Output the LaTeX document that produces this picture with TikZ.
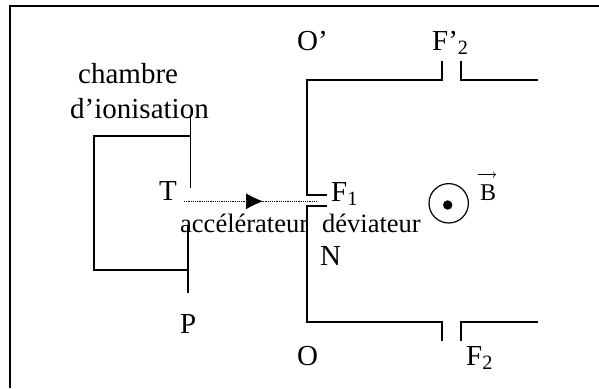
\documentclass[tikz,border=0pt]{standalone}
\usepackage{fontspec}
\setmainfont{Liberation Serif}
\usetikzlibrary{arrows.meta}
\tikzset{
  wall/.style={line width=1.2pt},
  lab/.style={anchor=base west,inner sep=0pt,font=\fontsize{26.5}{30}\selectfont},
  biglab/.style={anchor=base west,inner sep=0pt,font=\fontsize{29}{30}\selectfont},
}
\begin{document}
\begin{tikzpicture}[x=1pt,y=-1pt]
  \useasboundingbox (0,0) rectangle (599,388);
  \draw[wall] (10,388)--(10,6)--(599,6);
  % chambre
  \draw[wall] (190.7,136)--(94,136)--(94,270)--(188,270);
  \draw[wall] (190.7,117)--(190.7,188);
  \draw[wall] (188,225)--(188,293);
  % deviateur
  \draw[wall] (327,195)--(307,195)--(307,80)--(442,80)--(442,61);
  \draw[wall] (461,61)--(461,80)--(538,80);
  \draw[wall] (327,206)--(307,206)--(307,322)--(442,322)--(442,341);
  \draw[wall] (461,341)--(461,322)--(538,322);
  % faisceau
  \coordinate (start) at (184,201.3);
  \coordinate (base) at (246,201.3);
  \coordinate (tip) at (263,201.3);
  \coordinate (end) at (318,201.3);
  \draw[line width=1.1pt,dash pattern=on 1.1pt off 1.1pt] (start)--(end);
  \draw[-{Latex[length=17pt,width=16pt]},line width=0pt] (base)--(tip);
  % champ
  \node[circle,draw,line width=1.2pt,minimum size=39.4pt,inner sep=0pt] (champ) at (448.7,203.3) {};
  \node[circle,fill,minimum size=9.4pt,inner sep=0pt] (point) at (447.7,205) {};
  % textes
  \node[biglab] (chambre) at (78,83) {chambre};
  \node[biglab] (ionisation) at (70,118) {d’ionisation};
  \node[biglab] (T) at (159,200.7) {T};
  \node[lab] (accel) at (180,232) {accélérateur};
  \node[lab] (devia) at (322,232) {déviateur};
  \node[biglab] (N) at (320,265) {N};
  \node[biglab] (P) at (180,333) {P};
  \node[biglab] (Op) at (297,50) {O’};
  \node[biglab] (O) at (297,365) {O};
  \node[biglab] (Fp) at (432,50) {F’\textsubscript{2}};
  \node[biglab] (Fa) at (331,201) {F\textsubscript{1}};
  \node[biglab] (Fb) at (466,365) {F\textsubscript{2}};
  \node[lab,font=\fontsize{24}{30}\selectfont] (B) at (480,200) {B};
  \draw[->,line width=.6pt] (B.north west)++(-2,-9.5)--++(18,0);
\end{tikzpicture}
\end{document}
